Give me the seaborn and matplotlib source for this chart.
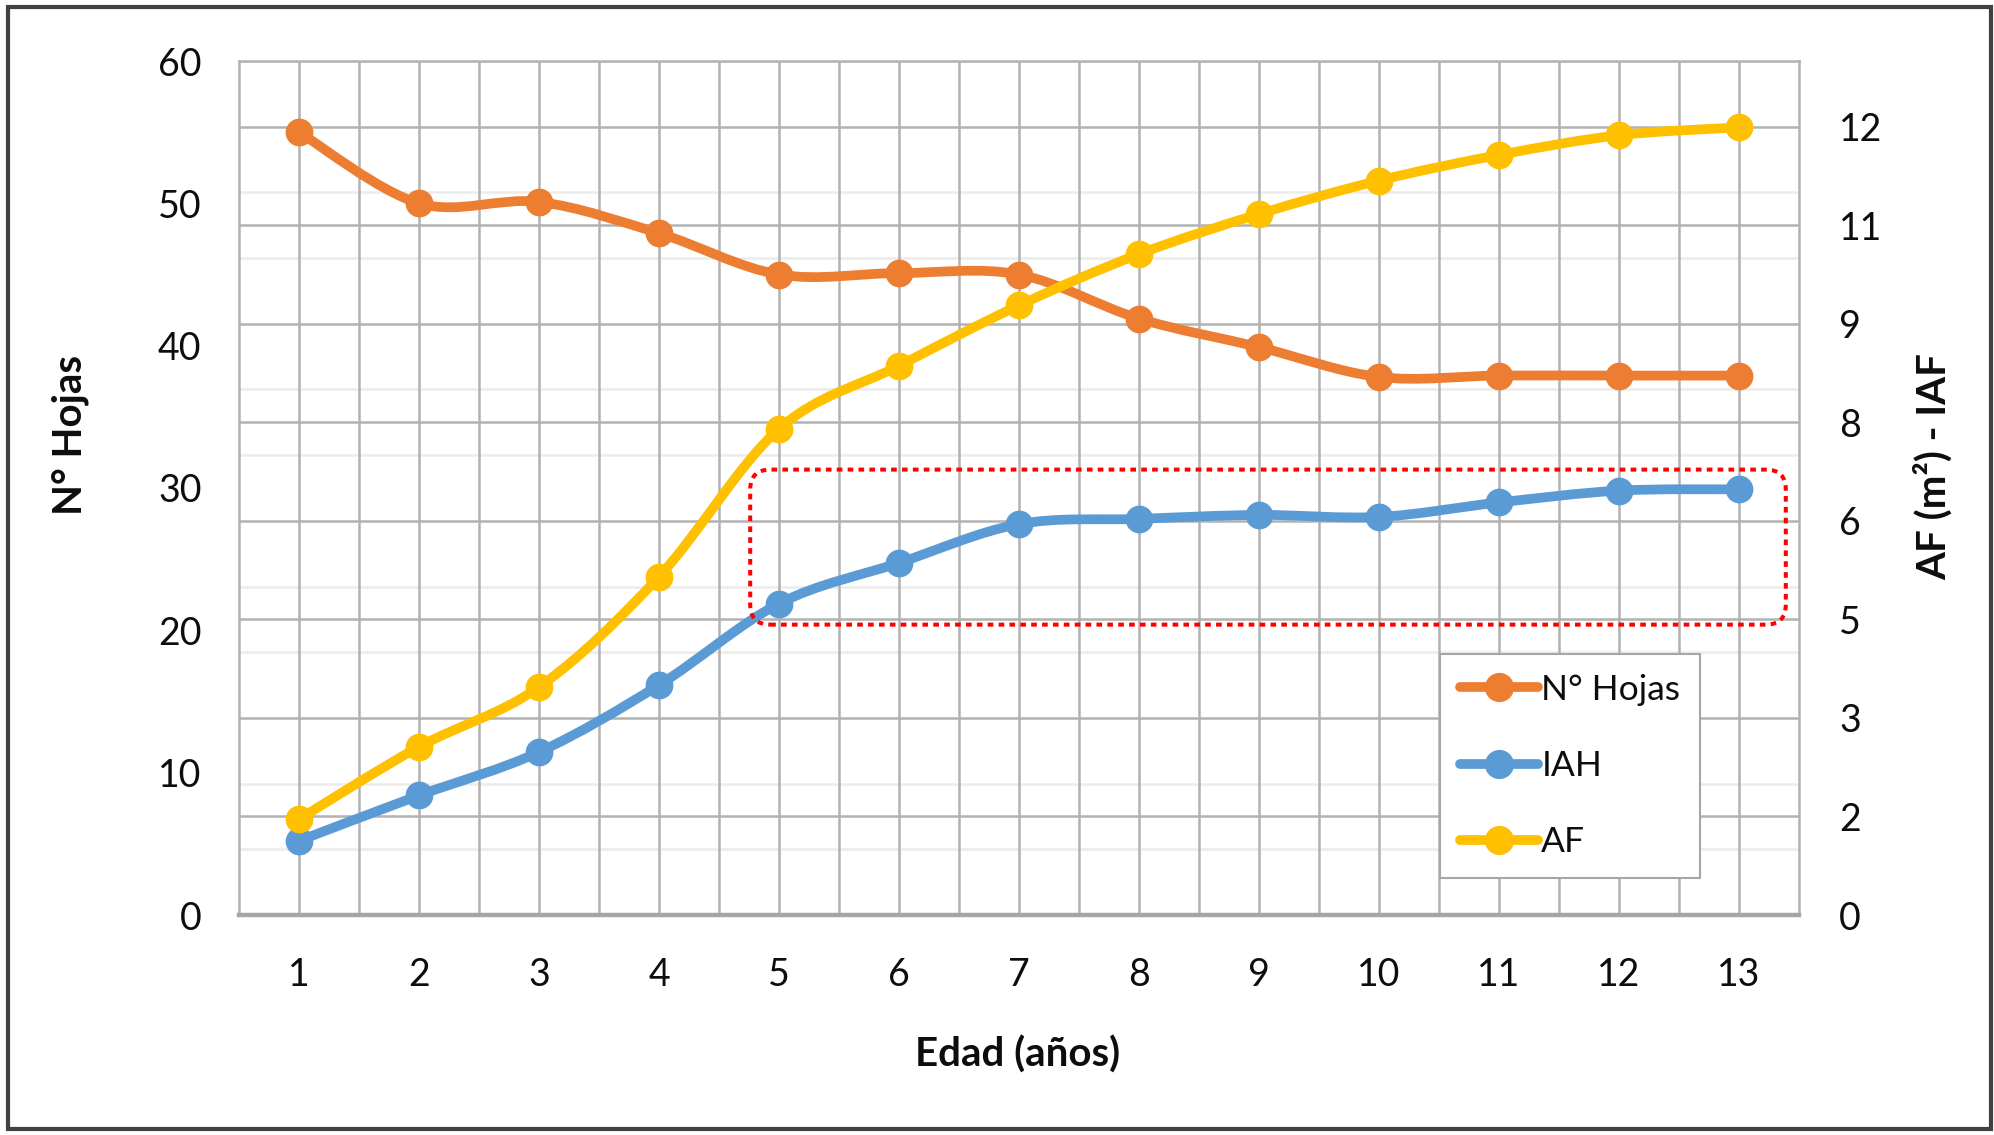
import numpy as np
import matplotlib
matplotlib.use("Agg")
import matplotlib.pyplot as plt
import seaborn as sns
from matplotlib.path import Path
from matplotlib.patches import PathPatch, FancyBboxPatch, Rectangle
from matplotlib.lines import Line2D
from matplotlib.ticker import FuncFormatter
from matplotlib.transforms import IdentityTransform

# ---- data -------------------------------------------------------------
edad = [1, 2, 3, 4, 5, 6, 7, 8, 9, 10, 11, 12, 13]
n_hojas = [55.0, 50.0, 50.1, 47.9, 45.0, 45.1, 45.0, 41.9, 39.9, 37.8, 37.9, 37.9, 37.9]
iah = [1.13, 1.82, 2.48, 3.50, 4.74, 5.36, 5.95, 6.03, 6.09, 6.06, 6.28, 6.46, 6.48]
af = [1.46, 2.56, 3.47, 5.15, 7.40, 8.36, 9.28, 10.06, 10.67, 11.18, 11.57, 11.87, 11.99]

series_names = ["N° Hojas", "IAH", "AF"]
series_colors = ["#ED7D31", "#5B9BD5", "#FFC000"]

left_ticks = [0, 10, 20, 30, 40, 50, 60]
x_label = "Edad (años)"
left_label = "N° Hojas"
right_label = "AF (m²) - IAF"

# highlighted region (x range, right-axis range)
box_x = (4.76, 13.39)
box_y = (4.42, 6.78)

# ---- style ------------------------------------------------------------
sns.set_style("white")
plt.rcParams["font.family"] = ["Lato", "DejaVu Sans"]
TXT = "#0d0d0d"
FS = 27          # tick labels
FS_TITLE = 29    # axis titles
FS_LEG = 25.5    # legend

W, H = 1994, 1135
fig = plt.figure(figsize=(W / 100, H / 100), dpi=100)
fig.patch.set_facecolor("white")

L, R, T, B = 239, 1799, 61, 915
pos = [L / W, 1 - B / H, (R - L) / W, (B - T) / H]

# background grid (right-axis units)
bg = fig.add_axes(pos)
bg.set_xlim(0.5, 13.5)
bg.set_ylim(0, 13)
for v in np.arange(1, 13.01, 1.0):
    if abs(v / 1.5 - round(v / 1.5)) > 1e-6:
        bg.axhline(v, color="#ececec", lw=1.8, zorder=0)
for v in np.arange(1.5, 12.01, 1.5):
    bg.axhline(v, color="#b2b2b2", lw=1.8, zorder=1)
for v in np.arange(1.0, 13.01, 0.5):
    bg.axvline(v, color="#b2b2b2", lw=1.8, zorder=1)
bg.set_xticks([])
bg.set_yticks([])
for s in bg.spines.values():
    s.set_visible(False)

# primary axis (N° Hojas)
ax = fig.add_axes(pos)
ax.patch.set_visible(False)
ax.set_xlim(0.5, 13.5)
ax.set_ylim(0, 60)
ax.set_yticks(left_ticks)
ax.set_xticks(edad)
ax.tick_params(axis="y", length=0, pad=27, labelsize=FS, labelcolor=TXT)
ax.tick_params(axis="x", length=0, pad=30, labelsize=FS, labelcolor=TXT)
for name in ["left", "top", "right"]:
    ax.spines[name].set_color("#b2b2b2")
    ax.spines[name].set_linewidth(1.8)
ax.spines["bottom"].set_color("#a6a6a6")
ax.spines["bottom"].set_linewidth(3.2)

# secondary axis (IAH, AF)
ax2 = ax.twinx()
ax2.set_ylim(0, 13)
ax2.set_yticks(np.arange(0, 12.01, 1.5))
ax2.yaxis.set_major_formatter(FuncFormatter(lambda v, p: f"{int(np.floor(v + 0.5))}"))
ax2.tick_params(axis="y", length=0, pad=29, labelsize=FS, labelcolor=TXT)
for s in ax2.spines.values():
    s.set_visible(False)


def smooth_path(xs, ys):
    pts = np.column_stack([xs, ys]).astype(float)
    n = len(pts)
    verts = [pts[0]]
    codes = [Path.MOVETO]
    for i in range(n - 1):
        p0 = pts[max(i - 1, 0)]
        p1 = pts[i]
        p2 = pts[i + 1]
        p3 = pts[min(i + 2, n - 1)]
        verts += [p1 + (p2 - p0) / 6.0, p2 - (p3 - p1) / 6.0, p2]
        codes += [Path.CURVE4] * 3
    return Path(verts, codes)


LW = 7.0
MS = 400


def draw_series(axis, xs, ys, color):
    patch = PathPatch(smooth_path(xs, ys), facecolor="none", edgecolor=color,
                      lw=LW, capstyle="round", joinstyle="round",
                      transform=axis.transData, zorder=3)
    axis.add_patch(patch)
    sns.scatterplot(x=xs, y=ys, ax=axis, color=color, s=MS, linewidth=0,
                    zorder=4, legend=False)


draw_series(ax, edad, n_hojas, series_colors[0])
draw_series(ax2, edad, iah, series_colors[1])
draw_series(ax2, edad, af, series_colors[2])
ax.set_xlim(0.5, 13.5)
ax.set_ylim(0, 60)
ax2.set_ylim(0, 13)
ax.set_xlabel("")
ax.set_ylabel("")
ax2.set_ylabel("")

# legend
handles = [Line2D([0], [0], color=c, lw=LW, marker="o", markersize=20,
                  solid_capstyle="round") for c in series_colors]
leg = ax2.legend(handles, series_names, loc="upper left",
                 bbox_to_anchor=(1440 / W, 1 - 654 / H),
                 bbox_transform=fig.transFigure, frameon=True, fancybox=False,
                 edgecolor="#a6a6a6", framealpha=1, fontsize=FS_LEG,
                 handlelength=2.2, handletextpad=0.1, labelspacing=1.25,
                 borderpad=0.56, borderaxespad=0)
leg.get_frame().set_linewidth(1.5)
for t in leg.get_texts():
    t.set_color(TXT)

# dotted rounded highlight
(x0p, y0p) = ax2.transData.transform((box_x[0], box_y[0]))
(x1p, y1p) = ax2.transData.transform((box_x[1], box_y[1]))
hl = FancyBboxPatch((x0p, y0p), x1p - x0p, y1p - y0p,
                    boxstyle="round,pad=0,rounding_size=20",
                    facecolor="none", edgecolor="#ff0000", lw=2.9,
                    linestyle=(0, (1.4, 1.3)), capstyle="butt",
                    transform=IdentityTransform(), zorder=5)
fig.add_artist(hl)

# axis titles
fig.text(1018 / W, 1 - 1055 / H, x_label, ha="center", va="center",
         fontsize=FS_TITLE, fontweight="bold", color=TXT)
fig.text(70 / W, 1 - 435 / H, left_label, ha="center", va="center",
         rotation=90, fontsize=FS_TITLE, fontweight="bold", color=TXT)
fig.text(1933 / W, 1 - 467 / H, right_label, ha="center", va="center",
         rotation=90, fontsize=FS_TITLE, fontweight="bold", color=TXT)

# outer frame
fig.add_artist(Rectangle((8 / W, 1 - 1129 / H), (1991 - 8) / W, (1129 - 7) / H,
                         transform=fig.transFigure, fill=False,
                         edgecolor="#404040", lw=3))

fig.savefig("out.png", dpi=100, facecolor="white")
